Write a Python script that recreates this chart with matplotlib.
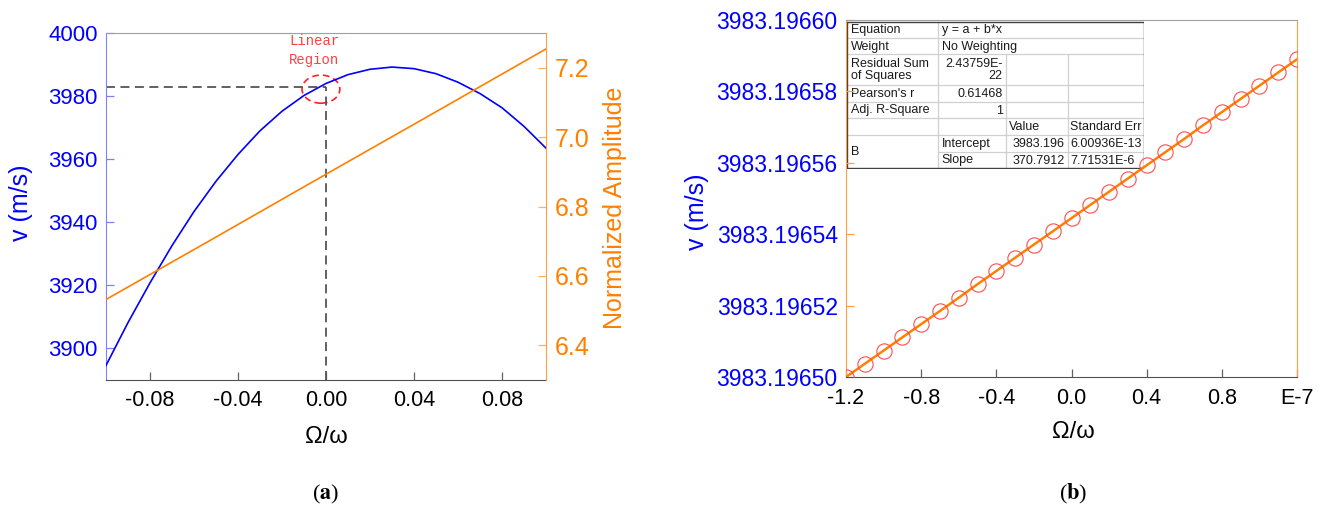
import matplotlib
matplotlib.use('Agg')
import matplotlib.pyplot as plt
from matplotlib.patches import Ellipse
from matplotlib.ticker import FixedLocator, FixedFormatter

plt.rcParams['font.family'] = ['Liberation Sans', 'DejaVu Sans']
plt.rcParams['axes.unicode_minus'] = False
plt.rcParams['mathtext.fontset'] = 'stix'

# ---- panel (a) data ----
ratio_a = [-0.10, -0.09, -0.08, -0.07, -0.06, -0.05, -0.04, -0.03, -0.02, -0.01, 0.00,
           0.01, 0.02, 0.03, 0.04, 0.05, 0.06, 0.07, 0.08, 0.09, 0.10]
velocity_a = [3894.6, 3908.2, 3920.8, 3932.6, 3943.4, 3953.0, 3961.5, 3969.0, 3975.2, 3980.2, 3984.0,
              3986.8, 3988.5, 3989.2, 3988.7, 3987.1, 3984.4, 3980.8, 3976.3, 3970.4, 3963.5]
ratio_amp = [-0.10, -0.05, 0.00, 0.05, 0.10]
amplitude = [6.532, 6.712, 6.893, 7.073, 7.254]
v_work = 3983.0
xticks_a = [-0.08, -0.04, 0.00, 0.04, 0.08]
yticks_a = [3900, 3920, 3940, 3960, 3980, 4000]
yticks_amp = [6.4, 6.6, 6.8, 7.0, 7.2]

# ---- panel (b) data ----
ratio_b = [-1.2, -1.1, -1.0, -0.9, -0.8, -0.7, -0.6, -0.5, -0.4, -0.3, -0.2, -0.1, 0.0,
           0.1, 0.2, 0.3, 0.4, 0.5, 0.6, 0.7, 0.8, 0.9, 1.0, 1.1, 1.2]
velocity_b = [3983.1965000, 3983.1965037, 3983.1965074, 3983.1965111, 3983.1965148,
              3983.1965185, 3983.1965222, 3983.1965260, 3983.1965297, 3983.1965334,
              3983.1965371, 3983.1965408, 3983.1965445, 3983.1965482, 3983.1965519,
              3983.1965556, 3983.1965593, 3983.1965630, 3983.1965667, 3983.1965705,
              3983.1965742, 3983.1965779, 3983.1965816, 3983.1965853, 3983.1965890]
xticks_b = [-1.2, -0.8, -0.4, 0.0, 0.4, 0.8, 1.2]
xtick_labels_b = ['-1.2', '-0.8', '-0.4', '0.0', '0.4', '0.8', 'E-7']
yticks_b = [3983.19650, 3983.19652, 3983.19654, 3983.19656, 3983.19658, 3983.19660]

# fit report table
fit_rows = [('Equation', 'y = a + b*x'),
            ('Weight', 'No Weighting')]
stat_rows = [('Residual Sum\nof Squares', '2.43759E-\n22'),
             ("Pearson's r", '0.61468'),
             ('Adj. R-Square', '1')]
param_header = ['Value', 'Standard Err']
param_rows = [('Intercept', '3983.196', '6.00936E-13'),
              ('Slope', '370.7912', '7.71531E-6')]

BLUE = '#0000ff'
ORANGE = '#ff8000'
W, H = 1328, 512

fig = plt.figure(figsize=(W / 100, H / 100), dpi=100)


def px_axes(l, t, r, b):
    return fig.add_axes([l / W, 1 - b / H, (r - l) / W, (b - t) / H])


def fig_text(x, y, s, **kw):
    fig.text(x / W, 1 - y / H, s, **kw)


# ================= (a) =================
ax1 = px_axes(106, 33, 546, 380)
ax1.plot(ratio_a, velocity_a, color=BLUE, lw=1.2, zorder=3)
ax1.plot([-0.1, 0], [v_work, v_work], color='#555555', lw=1.3, ls=(0, (5, 3)))
ax1.plot([0, 0], [3890, v_work], color='#555555', lw=1.3, ls=(0, (5, 3)))
ax1.add_patch(Ellipse((-0.0023, 3982.2), 0.0172, 8.9, fill=False, ec='#ff2020',
                      ls=(0, (4, 2.5)), lw=1.2))
ax1.text(-0.0054, 3994.6, 'Linear\nRegion', ha='center', va='center', fontsize=10,
         family='Liberation Mono', color='#ff4040', linespacing=1.45)
ax1.set_xlim(-0.1, 0.1)
ax1.set_ylim(3890, 4000)
ax1.set_xticks(xticks_a)
ax1.set_xticklabels(['%.2f' % t for t in xticks_a])
ax1.set_yticks(yticks_a)
ax1.tick_params(axis='y', direction='in', length=6, width=0.9, colors='#8080ff',
                labelcolor=BLUE, labelsize=16, pad=6)
ax1.tick_params(axis='x', direction='in', length=6, width=0.9, colors='#606060',
                labelcolor='black', labelsize=15.5, pad=7)
ax1.spines['left'].set_color('#8080ff')
ax1.spines['top'].set_color('#a0a0a0')
ax1.spines['bottom'].set_color('#505050')
ax1.spines['right'].set_visible(False)

ax1b = ax1.twinx()
ax1b.plot(ratio_amp, amplitude, color=ORANGE, lw=1.2)
ax1b.set_ylim(6.3, 7.3)
ax1b.set_yticks(yticks_amp)
ax1b.set_yticklabels(['%.1f' % t for t in yticks_amp])
ax1b.tick_params(axis='y', direction='in', length=6, width=0.9, colors='#ffb060',
                 labelcolor=ORANGE, labelsize=18, pad=6)
ax1b.spines['right'].set_color('#ffa040')
for s in ['left', 'top', 'bottom']:
    ax1b.spines[s].set_visible(False)

fig_text(21, 203, 'v (m/s)', rotation=90, ha='center', va='center', fontsize=18, color=BLUE)
fig_text(615, 208, 'Normalized Amplitude', rotation=90, ha='center', va='center',
         fontsize=18, color=ORANGE)
fig_text(326, 437, 'Ω/ω', ha='center', va='center', fontsize=17)
fig_text(326, 494, r'($\mathbf{a}$)', ha='center', va='center', fontsize=16,
         family='Liberation Serif')

# ================= (b) =================
ax2 = px_axes(846, 20, 1297, 377)
ax2.set_zorder(2)
ax2.patch.set_alpha(0)
ax2.plot(ratio_b, velocity_b, color=ORANGE, lw=1.8, zorder=3)
ax2.plot(ratio_b, velocity_b, 'o', mfc='none', mec='#ff4d4d', ms=11, mew=0.8, zorder=4)
ax2.set_xlim(-1.2, 1.2)
ax2.set_ylim(yticks_b[0], yticks_b[-1])
ax2.xaxis.set_major_locator(FixedLocator(xticks_b))
ax2.xaxis.set_major_formatter(FixedFormatter(xtick_labels_b))
ax2.yaxis.set_major_locator(FixedLocator(yticks_b))
ax2.yaxis.set_major_formatter(FixedFormatter(['%.5f' % t for t in yticks_b]))
ax2.tick_params(axis='y', direction='in', length=6, width=0.9, colors='#ffa040',
                labelcolor=BLUE, labelsize=16.5, pad=6)
ax2.tick_params(axis='x', direction='in', length=6, width=0.9, colors='#606060',
                labelcolor='black', labelsize=15.5, pad=8)
ax2.spines['left'].set_color('#ffa040')
ax2.spines['right'].set_color('#ffa040')
ax2.spines['top'].set_color('#a0a0a0')
ax2.spines['bottom'].set_color('#505050')

fig_text(697, 212, 'v (m/s)', rotation=90, ha='center', va='center', fontsize=18, color=BLUE)
fig_text(1073, 432, 'Ω/ω', ha='center', va='center', fontsize=17)
fig_text(1073, 494, r'($\mathbf{b}$)', ha='center', va='center', fontsize=16,
         family='Liberation Serif')

# fit report table, drawn in pixel units under the data
tab = px_axes(846, 20, 1144, 169)
tab.set_zorder(1)
tab.set_xlim(846, 1144)
tab.set_ylim(169, 20)
tab.axis('off')
tab.add_patch(plt.Rectangle((846.7, 21.7), 1144 - 846.7, 168.3 - 21.7, fc='white', ec='none'))

cols = [846.7, 938.3, 1005.7, 1067.7, 1143.5]
rows = [21.7, 38.3, 54.3, 85.0, 101.7, 118.3, 135.0, 151.7, 168.3]
light = dict(color='#d0d0d0', lw=0.9)
for y in rows[1:7]:
    tab.plot([cols[0], cols[-1]], [y, y], **light)
tab.plot([cols[1], cols[-1]], [rows[7], rows[7]], **light)
tab.plot([cols[1], cols[1]], [rows[0], rows[-1]], **light)
for x in cols[2:4]:
    tab.plot([x, x], [rows[2], rows[-1]], **light)
tab.plot([cols[0], cols[-1], cols[-1], cols[0], cols[0]],
         [rows[0], rows[0], rows[-1], rows[-1], rows[0]], color='#404040', lw=1.0)

fs = 9
tc = '#1a1a1a'
for i, (name, val) in enumerate(fit_rows):
    yc = (rows[i] + rows[i + 1]) / 2 + 0.5
    tab.text(cols[0] + 4.5, yc, name, ha='left', va='center', fontsize=fs, color=tc)
    tab.text(cols[1] + 3.5, yc, val, ha='left', va='center', fontsize=fs, color=tc)
for i, (name, val) in enumerate(stat_rows):
    yc = (rows[i + 2] + rows[i + 3]) / 2 + 0.5
    tab.text(cols[0] + 4.5, yc, name, ha='left', va='center', fontsize=fs, color=tc,
             linespacing=1.05)
    tab.text(cols[2] - 3, yc, val, ha='right', va='center', fontsize=fs, color=tc,
             linespacing=1.05, multialignment='right')
yh = (rows[5] + rows[6]) / 2 + 0.5
tab.text(cols[2] + 3, yh, param_header[0], ha='left', va='center', fontsize=fs, color=tc)
tab.text(cols[3] + 2.5, yh, param_header[1], ha='left', va='center', fontsize=fs, color=tc)
tab.text(cols[0] + 4.5, (rows[6] + rows[8]) / 2, 'B', ha='left', va='center', fontsize=fs, color=tc)
for i, (name, val, err) in enumerate(param_rows):
    yc = (rows[i + 6] + rows[i + 7]) / 2 + 0.5
    tab.text(cols[1] + 3.5, yc, name, ha='left', va='center', fontsize=fs, color=tc)
    tab.text(cols[3] - 3, yc, val, ha='right', va='center', fontsize=fs, color=tc)
    tab.text(cols[3] + 2.5, yc, err, ha='left', va='center', fontsize=fs, color=tc)

fig.savefig('out.png', dpi=100, facecolor='white')
